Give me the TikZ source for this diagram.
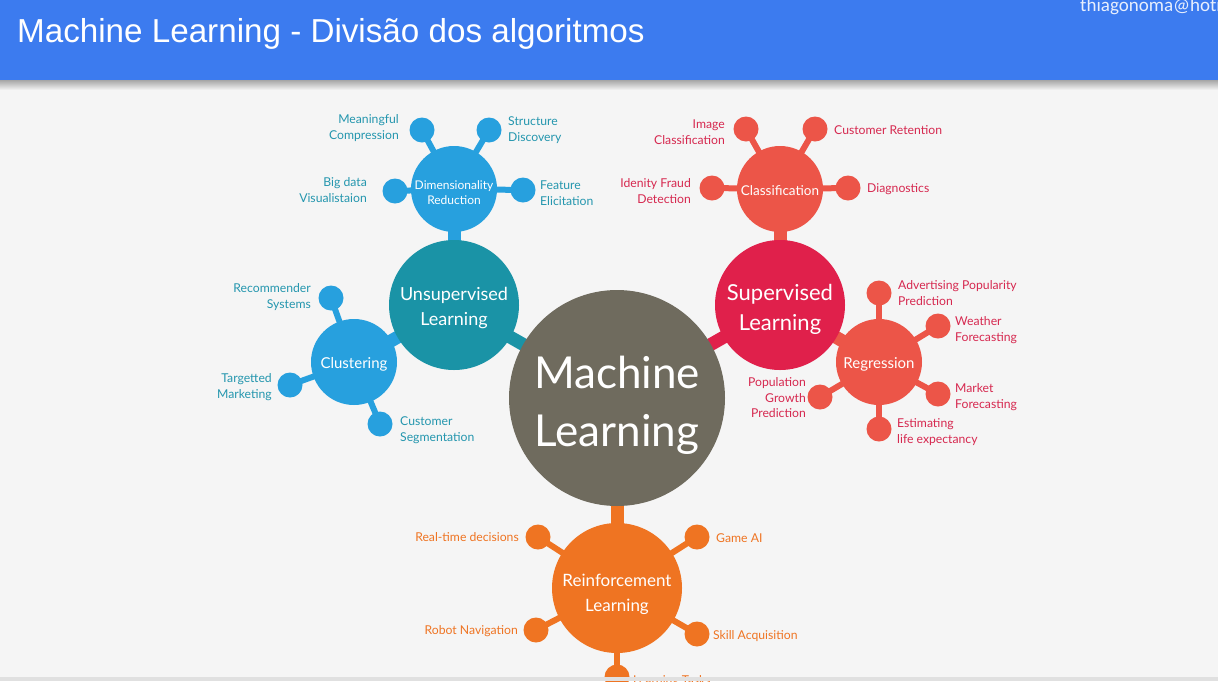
\documentclass[tikz,border=0pt]{standalone}
\usepackage{fontspec}
\setmainfont{Lato}
\newfontfamily\titlefont{Liberation Sans}
\newfontfamily\mailfont{Carlito}
\pgfdeclarelayer{back}
\pgfdeclarelayer{bg}
\pgfsetlayers{back,bg,main}
\definecolor{pagebg}{HTML}{F5F5F5}
\definecolor{headblue}{HTML}{3C7BEF}
\definecolor{mlgray}{HTML}{6F6B5E}
\definecolor{unsupteal}{HTML}{1A93A6}
\definecolor{lightblue}{HTML}{27A0DE}
\definecolor{bluetext}{HTML}{2496AE}
\definecolor{supred}{HTML}{E0204B}
\definecolor{coral}{HTML}{EC5548}
\definecolor{redtext}{HTML}{D6284F}
\definecolor{orng}{HTML}{EF7422}
\tikzset{
  hub/.style={circle, inner sep=0pt, minimum size=#1},
  hubtext/.style={inner sep=0pt, text=white, align=center},
  sat/.style={circle, inner sep=0pt, minimum size=25pt, fill=#1},
  lbl/.style={inner sep=0pt, font=\fontsize{12.2}{15.5}\selectfont},
  lblL/.style={lbl, anchor=west, align=left},
  lblR/.style={lbl, anchor=east, align=right},
  thick stub/.style={line width=13pt, draw=#1},
  thin stub/.style={line width=6pt, draw=#1},
}
\begin{document}
\begin{tikzpicture}[x=1pt,y=-1pt]
\useasboundingbox (0,0) rectangle (1218,681);
\clip (0,0) rectangle (1218,681);
\begin{pgfonlayer}{back}
\fill[pagebg] (0,0) rectangle (1218,681);
\shade[top color=black!35, bottom color=pagebg] (0,80) rectangle (1218,90);
\fill[headblue] (0,0) rectangle (1218,80);
\end{pgfonlayer}
\node[anchor=west, text=white, font=\titlefont\fontsize{33.2}{38}\selectfont, inner sep=0pt] (title) at (17,34) {Machine Learning - Divisão dos algoritmos};
\node[anchor=base west, text=white!88!headblue, font=\mailfont\fontsize{19}{22}\selectfont, inner sep=0pt] (mail) at (1080,11) {thiagonoma@hotmail.com};

% hubs
\node[hub=216pt, fill=mlgray] (ml) at (617,398) {};
\node[hubtext, font=\fontsize{44}{58}\selectfont] (mlt) at (617,405) {Machine\\Learning};
\node[hub=130pt, fill=unsupteal] (unsup) at (454,305) {};
\node[hubtext, font=\fontsize{18}{25}\selectfont] (unsupt) at (454,308) {Unsupervised\\Learning};
\node[hub=130pt, fill=supred] (sup) at (780,305) {};
\node[hubtext, font=\fontsize{22}{30}\selectfont] (supt) at (780,309) {Supervised\\Learning};
\node[hub=130pt, fill=orng] (rl) at (617,588) {};
\node[hubtext, font=\fontsize{17}{25}\selectfont] (rlt) at (617,594) {Reinforcement\\Learning};
\node[hub=86pt, fill=lightblue] (dim) at (454,189) {};
\node[hubtext, font=\fontsize{12}{15}\selectfont] (dimt) at (454,193) {Dimensionality\\Reduction};
\node[hub=86pt, fill=lightblue] (clu) at (354,362) {};
\node[hubtext, font=\fontsize{15}{18}\selectfont] (clut) at (354,364) {Clustering};
\node[hub=86pt, fill=coral] (cla) at (780,189) {};
\node[hubtext, font=\fontsize{13.5}{16}\selectfont] (clat) at (780,191) {Classification};
\node[hub=86pt, fill=coral] (reg) at (879,362) {};
\node[hubtext, font=\fontsize{15}{18}\selectfont] (regt) at (879,364) {Regression};

% satellites - dimensionality
\node[sat=lightblue] (mc) at (422,130) {};
\node[sat=lightblue] (sd) at (489,130) {};
\node[sat=lightblue] (bd) at (395,191) {};
\node[sat=lightblue] (fe) at (523,190) {};
% clustering
\node[sat=lightblue] (rs) at (331,298) {};
\node[sat=lightblue] (tm) at (290,385) {};
\node[sat=lightblue] (cs) at (380,424) {};
% classification
\node[sat=coral] (ic) at (746,129) {};
\node[sat=coral] (cr) at (815,129) {};
\node[sat=coral] (ifd) at (712,188) {};
\node[sat=coral] (dg) at (848,188) {};
% regression
\node[sat=coral] (ap) at (879,293) {};
\node[sat=coral] (wf) at (938,326) {};
\node[sat=coral] (mf) at (938,394) {};
\node[sat=coral] (el) at (879,429) {};
\node[sat=coral] (pg) at (820,397) {};
% reinforcement
\node[sat=orng] (rt) at (538,537) {};
\node[sat=orng] (ga) at (697,537) {};
\node[sat=orng] (rn) at (536,630) {};
\node[sat=orng] (sa) at (697,634) {};
\node[sat=orng] (lt) at (617,677) {};

% connectors
\begin{pgfonlayer}{bg}
\draw[thick stub=unsupteal] (ml.center) -- (unsup.center);
\draw[thick stub=supred] (ml.center) -- (sup.center);
\draw[thick stub=orng] (ml.center) -- (rl.center);
\draw[thick stub=lightblue] (unsup.center) -- (dim.center);
\draw[thick stub=lightblue] (unsup.center) -- (clu.center);
\draw[thick stub=coral] (sup.center) -- (cla.center);
\draw[thick stub=coral] (sup.center) -- (reg.center);
\foreach \s in {mc,sd,bd,fe} \draw[thin stub=lightblue] (dim.center) -- (\s.center);
\foreach \s in {rs,tm,cs} \draw[thin stub=lightblue] (clu.center) -- (\s.center);
\foreach \s in {ic,cr,ifd,dg} \draw[thin stub=coral] (cla.center) -- (\s.center);
\foreach \s in {ap,wf,mf,el,pg} \draw[thin stub=coral] (reg.center) -- (\s.center);
\foreach \s in {rt,ga,rn,sa,lt} \draw[thin stub=orng] (rl.center) -- (\s.center);
\end{pgfonlayer}

% labels - blue
\node[lblR, text=bluetext] (tmc) at (399,128) {Meaningful\\Compression};
\node[lblL, text=bluetext] (tsd) at (508,130) {Structure\\Discovery};
\node[lblR, text=bluetext] (tbd) at (367,190) {Big data\\Visualistaion};
\node[lblL, text=bluetext] (tfe) at (540,193) {Feature\\Elicitation};
\node[lblR, text=bluetext] (trs) at (311,297) {Recommender\\Systems};
\node[lblR, text=bluetext] (ttm) at (272,387) {Targetted\\Marketing};
\node[lblL, text=bluetext] (tcs) at (400,430) {Customer\\Segmentation};
% labels - red
\node[lblR, text=redtext] (tic) at (725,132) {Image\\Classification};
\node[lblL, text=redtext] (tcr) at (834,130) {Customer Retention};
\node[lblR, text=redtext] (tifd) at (691,191) {Idenity Fraud\\Detection};
\node[lblL, text=redtext] (tdg) at (867,189) {Diagnostics};
\node[lblL, text=redtext] (tap) at (898,293) {Advertising Popularity\\Prediction};
\node[lblL, text=redtext] (twf) at (955,330) {Weather\\Forecasting};
\node[lblL, text=redtext] (tmf) at (955,397) {Market\\Forecasting};
\node[lblL, text=redtext] (tel) at (897,432) {Estimating\\life expectancy};
\node[lblR, text=redtext] (tpg) at (806,398) {Population\\Growth\\Prediction};
% labels - orange
\node[lblR, text=orng] (trt) at (519,537) {Real-time decisions};
\node[lblL, text=orng] (tga) at (716,538) {Game AI};
\node[lblR, text=orng] (trn) at (518,631) {Robot Navigation};
\node[lblL, text=orng] (tsa) at (713,636) {Skill Acquisition};
\node[lblL, text=orng] (tlt) at (633,681) {Learning Tasks};
\fill[black!12] (0,677) rectangle (1218,681);
\end{tikzpicture}
\end{document}
